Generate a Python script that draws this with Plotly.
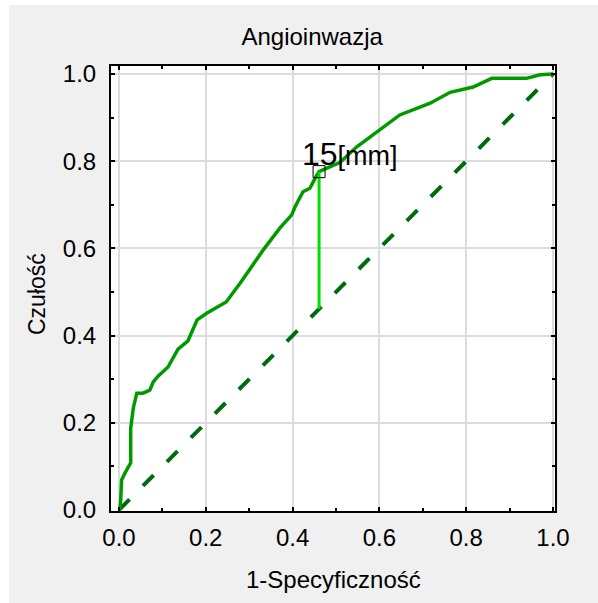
import plotly.graph_objects as go

# ROC curve data (1-Specificity, Sensitivity)
fpr = [0.0, 0.002, 0.004, 0.006, 0.014, 0.027, 0.027, 0.033, 0.041, 0.055, 0.071, 0.079,
       0.090, 0.113, 0.136, 0.159, 0.180, 0.202, 0.247, 0.279, 0.332, 0.371, 0.398, 0.406,
       0.424, 0.440, 0.452, 0.461, 0.479, 0.509, 0.548, 0.632, 0.647, 0.717, 0.763, 0.816,
       0.859, 0.939, 0.970, 1.0]
tpr = [0.0, 0.002, 0.023, 0.069, 0.085, 0.108, 0.188, 0.234, 0.268, 0.268, 0.275, 0.294,
       0.307, 0.328, 0.369, 0.388, 0.436, 0.451, 0.477, 0.520, 0.596, 0.647, 0.677, 0.696,
       0.730, 0.738, 0.761, 0.776, 0.784, 0.797, 0.833, 0.894, 0.906, 0.933, 0.958, 0.970,
       0.990, 0.990, 0.998, 1.0]

diag = [0.0, 1.0]
cut_x = 0.461
cut_y = 0.776
cut_label = "15[mm]"

tick_vals = [0.0, 0.2, 0.4, 0.6, 0.8, 1.0]
tick_text = ["0.0", "0.2", "0.4", "0.6", "0.8", "1.0"]

FONT = "Liberation Sans, Arial"

fig = go.Figure()

fig.add_trace(go.Scatter(x=diag, y=diag, mode="lines",
                         line=dict(color="#006b0e", width=4, dash="15px,19px"),
                         hoverinfo="skip", showlegend=False))
fig.add_trace(go.Scatter(x=fpr, y=tpr, mode="lines",
                         line=dict(color="#009a00", width=3.5),
                         showlegend=False))
fig.add_trace(go.Scatter(x=[cut_x, cut_x], y=[cut_x, cut_y], mode="lines",
                         line=dict(color="#00e000", width=3),
                         showlegend=False))
fig.add_trace(go.Scatter(x=[cut_x], y=[cut_y], mode="markers",
                         marker=dict(symbol="square-open", size=12,
                                     color="black", line=dict(width=1)),
                         showlegend=False))

fig.add_annotation(x=cut_x - 0.043, y=cut_y - 0.005, xref="x", yref="y",
                   text='<span style="font-size:32px">15</span>[mm]',
                   showarrow=False, xanchor="left", yanchor="bottom",
                   font=dict(family=FONT, size=27, color="black"))

axis_common = dict(
    showline=True, linecolor="black", linewidth=2, mirror="allticks",
    ticks="inside", ticklen=4, tickwidth=1.5, tickcolor="black",
    showgrid=True, gridcolor="#dcdcdc", gridwidth=2,
    zeroline=False,
    tickvals=tick_vals, ticktext=tick_text,
    tickfont=dict(family=FONT, size=24, color="black"),
    minor=dict(dtick=0.1, tick0=0, ticks="inside", ticklen=3, tickcolor="black",
               tickwidth=1.5, showgrid=False),
)

fig.update_xaxes(range=[-0.0184, 1.0046], ticklabelstandoff=4, **axis_common)
fig.update_yaxes(range=[-0.0023, 1.0183], ticklabelstandoff=8, **axis_common)

# axis titles
fig.add_annotation(x=0.5, y=-0.155, xref="paper", yref="paper",
                   text="1-Specyficzność", showarrow=False,
                   xanchor="center", yanchor="middle",
                   font=dict(family=FONT, size=24, color="black"))
fig.add_annotation(x=-0.1667, y=0.4876, xref="paper", yref="paper",
                   text="Czułość", showarrow=False, textangle=-90,
                   xanchor="center", yanchor="middle",
                   font=dict(family=FONT, size=23, color="black"))

# background white strips (outer gray panel)
fig.add_shape(type="rect", xref="paper", yref="paper", x0=-0.3, x1=-0.2297, y0=-0.3, y1=1.2,
              fillcolor="white", line=dict(width=0), layer="below")
fig.add_shape(type="rect", xref="paper", yref="paper", x0=-0.3, x1=1.2, y0=1.137, y1=1.2,
              fillcolor="white", line=dict(width=0), layer="below")

fig.update_layout(
    width=598, height=603,
    margin=dict(l=111, r=43, t=66, b=92),
    paper_bgcolor="#f0f0f0", plot_bgcolor="white",
    title=dict(text="Angioinwazja", x=0.522, xref="container", xanchor="center",
               y=1 - 37 / 603, yref="container", yanchor="middle",
               font=dict(family=FONT, size=24, color="black")),
    showlegend=False,
)

fig.write_html("out.html")
